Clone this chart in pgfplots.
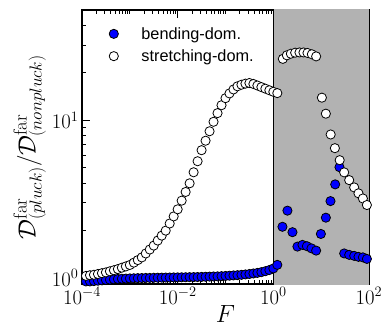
\documentclass[border=0pt]{standalone}
\usepackage{pgfplots}
\pgfplotsset{compat=1.18}
\usepackage{fontspec}
\newfontfamily\legendfont{Liberation Sans}
\definecolor{shade}{RGB}{178,178,178}
\begin{document}
\begin{tikzpicture}
\begin{loglogaxis}[
  scale only axis, width=287pt, height=274pt,
  xmin=1e-4, xmax=1e2, ymin=0.915, ymax=50,
  xtick={1e-4,1e-2,1,1e2},
  minor xtick={2e-4,3e-4,4e-4,5e-4,6e-4,7e-4,8e-4,9e-4,1e-3,2e-3,3e-3,4e-3,5e-3,6e-3,7e-3,8e-3,9e-3,2e-2,3e-2,4e-2,5e-2,6e-2,7e-2,8e-2,9e-2,1e-1,2e-1,3e-1,4e-1,5e-1,6e-1,7e-1,8e-1,9e-1,2,3,4,5,6,7,8,9,10,20,30,40,50,60,70,80,90},
  ytick={1,10},
  minor ytick={2,3,4,5,6,7,8,9,20,30,40},
  tick align=inside,
  major tick length=8pt, minor tick length=4pt,
  every tick/.style={black, line width=0.8pt},
  axis line style={line width=1.2pt},
  tick label style={font=\fontsize{20}{22}\selectfont},
  xlabel={$F$},
  ylabel={$\mathcal{D}^{\rm far}_{(pluck)}/\mathcal{D}^{\rm far}_{(nonpluck)}$},
  xlabel style={yshift=6pt, font=\fontsize{24}{26}\selectfont},
  ylabel style={yshift=-1pt, font=\fontsize{27}{29}\selectfont},
  legend style={at={(axis description cs:0,1)}, anchor=north west, xshift=27pt, yshift=-15pt,
    draw=none, fill=none, inner sep=0pt,
    font=\legendfont\fontsize{16.3}{18}\selectfont, row sep=5pt,
    legend cell align=left},
  legend image code/.code={\draw[#1] plot coordinates {(0pt,0pt)};},
]
\addplot[forget plot, fill=shade, draw=black, line width=1pt] coordinates {(1,0.5) (1,100) (100,100) (100,0.5)} -- cycle;

\addplot[only marks, mark=*, mark size=4.6pt, mark options={fill=blue, draw=black, line width=0.8pt}] coordinates {
(1.2115e-4,0.950) (1.4678e-4,0.950) (1.7783e-4,0.955) (2.1544e-4,0.960) (2.6102e-4,0.965) (3.1623e-4,0.970)
(3.8312e-4,0.975) (4.6416e-4,0.980) (5.6234e-4,0.985) (6.8129e-4,0.988) (8.2540e-4,0.990) (1e-3,0.993)
(1.2115e-3,0.995) (1.4678e-3,0.997) (1.7783e-3,0.998) (2.1544e-3,1.000) (2.6102e-3,1.000) (3.1623e-3,1.002)
(3.8312e-3,1.003) (4.6416e-3,1.004) (5.6234e-3,1.005) (6.8129e-3,1.006) (8.2540e-3,1.007) (1e-2,1.008)
(1.2115e-2,1.009) (1.4678e-2,1.010) (1.7783e-2,1.011) (2.1544e-2,1.012) (2.6102e-2,1.013) (3.1623e-2,1.015)
(3.8312e-2,1.017) (4.6416e-2,1.019) (5.6234e-2,1.021) (6.8129e-2,1.023) (8.2540e-2,1.026) (0.1,1.029)
(0.12115,1.033) (0.14678,1.037) (0.17783,1.041) (0.21544,1.046) (0.26102,1.052) (0.31623,1.059)
(0.38312,1.067) (0.46416,1.076) (0.56234,1.088) (0.68129,1.103) (0.82540,1.122) (1.0,1.148) (1.2115,1.21)
(1.552,2.11) (1.972,2.67) (2.512,1.95) (3.192,1.58) (4.064,1.62) (5.023,1.59) (6.266,1.54) (7.852,1.49)
(9.863,1.90) (12.53,2.41) (15.67,3.07) (19.63,3.92) (24.15,5.04)
(30.27,1.43) (38.55,1.40) (48.98,1.38) (60.26,1.36) (74.47,1.35) (90.36,1.32)
};
\addlegendentry{\hspace*{21pt}bending-dom.}

\addplot[only marks, mark=*, mark size=4.6pt, mark options={fill=white, draw=black, line width=0.8pt}] coordinates {
(1.2115e-4,1.030) (1.4678e-4,1.040) (1.7783e-4,1.047) (2.1544e-4,1.059) (2.6102e-4,1.072) (3.1623e-4,1.084)
(3.8312e-4,1.102) (4.6416e-4,1.119) (5.6234e-4,1.138) (6.8129e-4,1.161) (8.2540e-4,1.183) (1e-3,1.208)
(1.2115e-3,1.250) (1.4678e-3,1.297) (1.7783e-3,1.349) (2.1544e-3,1.429) (2.6102e-3,1.514) (3.1623e-3,1.603)
(3.8312e-3,1.726) (4.6416e-3,1.854) (5.6234e-3,1.995) (6.8129e-3,2.213) (8.2540e-3,2.455) (1e-2,2.723)
(1.2115e-2,3.090) (1.4678e-2,3.508) (1.7783e-2,3.981) (2.1544e-2,4.677) (2.6102e-2,5.495) (3.1623e-2,6.457)
(3.8312e-2,7.413) (4.6416e-2,8.511) (5.6234e-2,9.772) (6.8129e-2,11.09) (8.2540e-2,12.45) (0.1,13.80)
(0.12115,14.79) (0.14678,15.67) (0.17783,16.41) (0.21544,16.79) (0.26102,17.06) (0.31623,17.22)
(0.38312,16.98) (0.46416,16.60) (0.56234,16.22) (0.68129,15.85) (0.82540,15.49) (1.0,15.14) (1.2115,14.86)
(1.581,24.5) (1.919,25.8) (2.323,26.4) (2.858,26.8) (3.516,26.9) (4.266,26.9) (5.176,26.7) (6.383,26.2) (7.852,25.4)
(10.35,13.9) (12.53,11.0) (15.81,8.12) (19.36,6.65) (24.38,5.58)
(30.27,4.67) (38.55,4.17) (48.98,3.75) (60.26,3.44) (74.47,3.19) (90.36,2.90)
};
\addlegendentry{\hspace*{21pt}stretching-dom.}
\end{loglogaxis}
\pgfresetboundingbox
\useasboundingbox ([shift={(-82pt,-45pt)}]current axis.south west) rectangle ([shift={(16pt,10pt)}]current axis.north east);
\end{tikzpicture}
\end{document}
